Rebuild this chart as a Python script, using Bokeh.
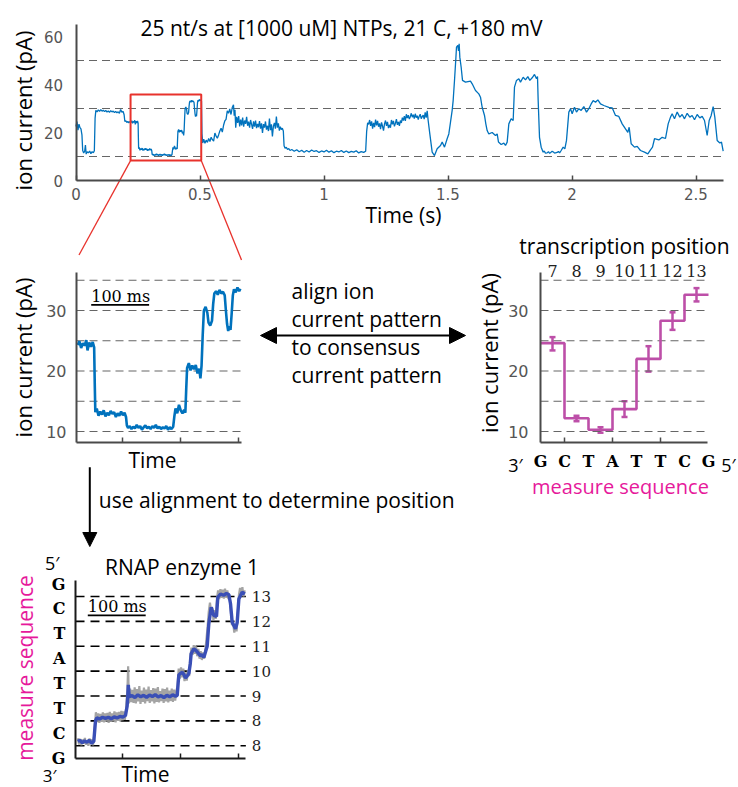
import numpy as np
from math import pi
from bokeh.plotting import figure
from bokeh.models import (Range1d, LinearAxis, FixedTicker, Label, Arrow, NormalHead,
                          ColumnDataSource, Whisker, TeeHead, Grid)
from bokeh.embed import file_html
from bokeh.resources import INLINE

W, H = 738, 787

# ----------------------------------------------------------------- data
title_text = "25 nt/s at [1000 uM] NTPs, 21 C, +180 mV"

# raw ion-current trace: (time s, current pA)
trace = [
    (0.000, 22.5), (0.004, 24.6), (0.008, 21.0), (0.012, 23.5), (0.016, 22.0), (0.020, 21.5),
    (0.024, 19.0), (0.027, 12.5), (0.031, 11.5), (0.035, 12.2), (0.038, 14.8), (0.041, 11.0),
    (0.045, 12.0), (0.050, 11.5), (0.055, 12.3), (0.060, 11.2), (0.065, 12.0), (0.070, 11.6),
    (0.074, 12.4), (0.077, 26.0), (0.080, 29.2), (0.085, 28.6), (0.090, 29.4), (0.095, 28.8),
    (0.100, 29.5), (0.105, 28.9), (0.110, 29.3), (0.115, 28.7), (0.120, 29.2), (0.125, 28.5),
    (0.130, 29.0), (0.135, 28.4), (0.140, 29.1), (0.145, 28.6), (0.150, 28.9), (0.155, 28.3),
    (0.160, 28.8), (0.165, 28.2), (0.170, 28.6), (0.175, 28.0), (0.180, 29.6), (0.185, 28.4),
    (0.190, 28.8), (0.194, 27.4), (0.197, 24.6), (0.201, 24.9), (0.205, 24.2), (0.209, 24.6),
    (0.213, 24.0), (0.217, 24.5),
    (0.222, 24.3), (0.225, 24.9), (0.228, 23.8), (0.231, 24.6), (0.234, 24.2), (0.237, 25.1),
    (0.239, 23.4), (0.242, 24.7), (0.245, 24.0), (0.248, 24.8), (0.2505, 23.9), (0.2515, 18.0),
    (0.2525, 13.2), (0.255, 13.8), (0.258, 12.6), (0.261, 13.3), (0.264, 12.8), (0.267, 13.5),
    (0.270, 12.5), (0.273, 13.1), (0.276, 12.7), (0.279, 13.4), (0.282, 12.9), (0.285, 13.2),
    (0.288, 12.4), (0.291, 13.0), (0.294, 12.6), (0.297, 13.3), (0.300, 12.7), (0.303, 13.1),
    (0.3055, 12.4), (0.307, 11.0), (0.309, 10.6), (0.312, 10.9), (0.315, 10.4), (0.318, 10.8),
    (0.321, 10.5), (0.324, 11.1), (0.327, 10.6), (0.330, 10.9), (0.333, 10.3), (0.336, 10.7),
    (0.339, 11.0), (0.342, 10.5), (0.345, 10.8), (0.348, 10.4), (0.351, 10.9), (0.354, 10.6),
    (0.357, 11.1), (0.360, 10.5), (0.363, 10.8), (0.366, 10.4), (0.369, 10.7), (0.372, 10.5),
    (0.375, 10.9), (0.378, 10.3), (0.381, 10.7), (0.384, 10.4), (0.387, 10.8), (0.389, 12.5),
    (0.391, 13.8), (0.394, 13.0), (0.397, 14.4), (0.400, 13.5), (0.403, 13.0), (0.406, 13.6),
    (0.408, 13.1), (0.4095, 17.0), (0.411, 20.5), (0.414, 21.3), (0.417, 20.1), (0.420, 20.9),
    (0.423, 20.3), (0.426, 21.0), (0.429, 19.6), (0.432, 20.4), (0.434, 18.8), (0.436, 20.9),
    (0.438, 26.0), (0.440, 30.0), (0.443, 30.6), (0.446, 29.6), (0.448, 28.0), (0.451, 27.5),
    (0.454, 28.3), (0.456, 31.0), (0.458, 32.8), (0.461, 33.2), (0.464, 32.6), (0.467, 33.4),
    (0.470, 32.8), (0.473, 33.1), (0.476, 32.5), (0.478, 30.0), (0.480, 27.8), (0.482, 26.6),
    (0.484, 27.4), (0.486, 26.8), (0.488, 29.5), (0.490, 32.5), (0.492, 33.5), (0.495, 33.0),
    (0.498, 33.8), (0.501, 33.2), (0.503, 33.6),
    (0.506, 33.0), (0.508, 19.5), (0.511, 15.6), (0.515, 17.2), (0.520, 15.5), (0.525, 16.8),
    (0.530, 15.9), (0.535, 17.5), (0.540, 16.2), (0.545, 18.0), (0.550, 17.0), (0.555, 16.4),
    (0.560, 19.8), (0.565, 18.5), (0.570, 17.6), (0.575, 19.0), (0.580, 20.6), (0.585, 21.8),
    (0.590, 20.2), (0.595, 23.0), (0.600, 24.8), (0.605, 25.5), (0.610, 29.0), (0.615, 28.0),
    (0.620, 29.8), (0.625, 27.5), (0.630, 30.4), (0.635, 31.5), (0.638, 27.0), (0.641, 29.5),
    (0.644, 22.0), (0.648, 26.5), (0.652, 24.0), (0.656, 26.8), (0.660, 22.5), (0.664, 25.4),
    (0.668, 23.0), (0.672, 26.2), (0.676, 22.4), (0.680, 25.0), (0.684, 23.6), (0.688, 26.5),
    (0.692, 22.8), (0.696, 24.5), (0.700, 22.0), (0.704, 25.2), (0.708, 23.4), (0.712, 21.5),
    (0.716, 24.6), (0.720, 22.4), (0.724, 25.0), (0.728, 21.8), (0.732, 23.6), (0.736, 22.2),
    (0.740, 24.8), (0.744, 21.6), (0.748, 23.8), (0.752, 19.8), (0.756, 23.5), (0.760, 22.0),
    (0.764, 24.6), (0.768, 21.2), (0.772, 22.8), (0.776, 20.6), (0.780, 25.8), (0.784, 21.0),
    (0.788, 23.4), (0.792, 18.4), (0.796, 22.6), (0.800, 24.0), (0.804, 21.6), (0.808, 26.6),
    (0.812, 22.0), (0.816, 23.8), (0.820, 20.8), (0.824, 22.4), (0.828, 21.2), (0.832, 21.8),
    (0.836, 20.6), (0.839, 14.5), (0.843, 13.4), (0.848, 13.8), (0.853, 12.9), (0.858, 13.3),
    (0.863, 12.5), (0.870, 12.9), (0.880, 12.2), (0.890, 12.8), (0.900, 12.0), (0.910, 12.6),
    (0.920, 11.8), (0.930, 12.5), (0.940, 11.9), (0.950, 12.7), (0.960, 12.1), (0.970, 12.4),
    (0.980, 11.7), (0.990, 12.3), (1.000, 11.9), (1.010, 12.6), (1.020, 11.8), (1.030, 12.4),
    (1.040, 11.6), (1.050, 12.2), (1.060, 11.9), (1.070, 12.5), (1.080, 11.7), (1.090, 12.3),
    (1.100, 11.6), (1.110, 12.1), (1.120, 11.8), (1.130, 12.4), (1.140, 11.5), (1.150, 12.0),
    (1.160, 11.7), (1.168, 12.2), (1.172, 20.5), (1.176, 24.0), (1.180, 23.4), (1.184, 25.2),
    (1.188, 22.8), (1.192, 24.6), (1.196, 21.6), (1.200, 24.0), (1.204, 22.2), (1.208, 25.4),
    (1.212, 23.0), (1.216, 24.8), (1.220, 22.4), (1.224, 23.8), (1.228, 21.4), (1.232, 24.2),
    (1.236, 22.6), (1.240, 20.8), (1.244, 23.6), (1.248, 25.0), (1.252, 22.8), (1.256, 24.4),
    (1.260, 21.8), (1.264, 23.2), (1.268, 22.0), (1.272, 25.2), (1.276, 23.4), (1.280, 24.8),
    (1.284, 22.6), (1.288, 23.8), (1.292, 25.6), (1.296, 23.2), (1.300, 24.4), (1.304, 22.8),
    (1.308, 25.0), (1.312, 24.0), (1.316, 26.2), (1.320, 25.0), (1.324, 26.8), (1.328, 24.8),
    (1.332, 27.6), (1.336, 26.0), (1.340, 27.2), (1.344, 25.6), (1.348, 26.6), (1.352, 28.0),
    (1.356, 26.4), (1.360, 27.4), (1.364, 25.8), (1.368, 27.8), (1.372, 26.2), (1.376, 27.0),
    (1.380, 25.4), (1.384, 26.8), (1.388, 27.6), (1.392, 25.8), (1.396, 26.6), (1.400, 27.2),
    (1.404, 25.6), (1.408, 28.4), (1.412, 26.2), (1.416, 29.0), (1.420, 25.0),
    (1.4267, 19.4), (1.4362, 11.8), (1.4456, 10.4), (1.4563, 13.2), (1.4698, 14.6), (1.4765, 16.0),
    (1.4859, 13.9), (1.4966, 17.4), (1.5033, 19.4), (1.5101, 24.3), (1.5168, 29.2), (1.5208, 33.3),
    (1.5262, 41.7), (1.5316, 50.7), (1.5343, 55.6), (1.5396, 56.3), (1.5423, 54.0), (1.5450, 57.0),
    (1.5477, 51.4), (1.5531, 47.2), (1.5585, 41.7), (1.5706, 41.0), (1.5907, 41.4), (1.5975, 40.3),
    (1.6109, 37.5), (1.6243, 36.1), (1.6310, 34.7), (1.6378, 30.5), (1.6472, 27.1), (1.6525, 23.6),
    (1.6579, 20.8), (1.6646, 19.4), (1.6781, 20.0), (1.6915, 18.75), (1.6983, 19.4), (1.7036, 16.0),
    (1.7144, 15.0), (1.7251, 15.6), (1.7319, 14.6), (1.7386, 16.0), (1.7453, 23.6), (1.7547, 25.7),
    (1.7628, 25.0), (1.7681, 38.9), (1.7762, 41.7), (1.7856, 42.4), (1.7923, 41.0), (1.8031, 43.0),
    (1.8125, 41.9), (1.8219, 43.3), (1.8300, 41.7), (1.8394, 42.8), (1.8488, 44.2), (1.8569, 42.4),
    (1.8609, 43.3), (1.8636, 33.3), (1.8690, 18.0), (1.8757, 13.9), (1.8838, 11.8), (1.888, 12.3),
    (1.893, 11.4), (1.8999, 11.5), (1.905, 12.0), (1.910, 11.3), (1.9200, 12.2), (1.925, 11.9),
    (1.930, 11.4), (1.9402, 11.7), (1.945, 12.1), (1.950, 11.5), (1.9563, 12.5), (1.9644, 13.9),
    (1.9711, 13.2), (1.9778, 16.7), (1.9872, 28.5), (1.9940, 29.9), (2.0007, 27.8), (2.0101, 30.5),
    (2.0181, 28.5), (2.0275, 29.9), (2.0370, 29.2), (2.0477, 30.8), (2.0585, 28.5), (2.0679, 29.9),
    (2.0773, 31.9), (2.0854, 33.3), (2.0948, 32.6), (2.1042, 33.6), (2.1149, 31.9), (2.1283, 31.25),
    (2.1485, 30.5), (2.1620, 30.3), (2.1754, 27.1), (2.1888, 26.7), (2.2023, 23.6), (2.2157, 21.5),
    (2.2251, 20.1), (2.2305, 22.2), (2.2386, 15.3), (2.2520, 13.9), (2.2628, 14.2), (2.2762, 12.5),
    (2.2923, 11.8), (2.3058, 11.1), (2.3165, 12.8), (2.3246, 13.9), (2.3327, 17.4), (2.3501, 16.9),
    (2.3636, 18.0), (2.3770, 17.5), (2.3878, 23.6), (2.3972, 26.4), (2.4039, 27.8), (2.4133, 25.7),
    (2.4241, 28.5), (2.4348, 26.4), (2.4442, 27.5), (2.4536, 25.7), (2.4644, 28.0), (2.4751, 26.4),
    (2.4845, 27.1), (2.4940, 25.3), (2.5047, 27.5), (2.5154, 26.1), (2.5249, 26.7), (2.5343, 25.0),
    (2.5450, 18.75), (2.5531, 25.0), (2.5612, 27.1), (2.5692, 30.8), (2.5759, 26.4), (2.5854, 16.7),
    (2.5961, 15.6), (2.6028, 16.0), (2.6096, 12.2),
]

top_t_end = 2.61
top_x_ticks = [0, 0.5, 1, 1.5, 2, 2.5]
top_y_ticks = [0, 20, 40, 60]
top_y_end = 65
top_ref_levels = [10, 30, 50]

# zoomed window (red box)
zoom_t = [0.22, 0.505]
zoom_pA = [8.3, 35.8]
zoom_y_axis = [8.18, 36.2]
zoom_y_ticks = [10, 20, 30]
zoom_x_ticks = [0.3, 0.4, 0.5]
zoom_ref_levels = [10, 15, 20, 25, 30, 35]
scalebar_s = 0.1

# consensus current pattern
cons_pos = [7, 8, 9, 10, 11, 12, 13]
cons_pA = [24.6, 12.2, 10.3, 13.7, 22.0, 28.3, 32.6]
cons_lo = [23.4, 11.7, 9.8, 12.4, 19.9, 26.8, 31.5]
cons_hi = [25.6, 12.6, 10.7, 15.0, 24.1, 29.7, 33.7]
cons_letters = ["G", "C", "T", "A", "T", "T", "C", "G"]
cons_letter_pos = [6.5, 7.5, 8.5, 9.5, 10.5, 11.5, 12.5, 13.5]
cons_ticks = [7.5, 9.5, 11.5]
cons_x_end = 13.45

# RNAP enzyme 1 position trace (time s, sequence position)
enz_fit = [
    (0.2223, 7.17), (0.226, 7.22), (0.230, 7.12), (0.234, 7.20), (0.238, 7.14), (0.242, 7.22),
    (0.246, 7.10), (0.2499, 7.18), (0.2528, 8.00), (0.255, 8.12), (0.260, 8.08), (0.265, 8.15),
    (0.270, 8.10), (0.275, 8.14), (0.280, 8.09), (0.285, 8.16), (0.290, 8.12), (0.295, 8.18),
    (0.300, 8.15), (0.3046, 8.22), (0.3075, 8.60), (0.3087, 9.05), (0.3095, 9.45), (0.311, 8.98),
    (0.316, 9.02), (0.321, 8.94), (0.326, 9.05), (0.331, 8.97), (0.336, 9.03), (0.341, 8.95),
    (0.346, 9.04), (0.351, 8.98), (0.356, 9.06), (0.361, 8.96), (0.366, 9.02), (0.371, 8.94),
    (0.376, 9.03), (0.381, 8.97), (0.386, 9.05), (0.391, 8.99), (0.3939, 9.02), (0.3967, 9.85),
    (0.400, 9.92), (0.4025, 9.95), (0.405, 9.88), (0.4083, 9.73), (0.411, 9.80), (0.4140, 9.90),
    (0.4165, 10.30), (0.4180, 10.70), (0.4226, 10.90), (0.4255, 10.85), (0.4284, 10.78),
    (0.431, 10.70), (0.4342, 10.62), (0.437, 10.66), (0.4399, 10.55), (0.4457, 11.00),
    (0.4485, 11.90), (0.4526, 12.57), (0.4572, 12.24), (0.4618, 12.20), (0.4641, 12.97),
    (0.4687, 13.10), (0.4740, 13.05), (0.4790, 13.12), (0.4831, 13.08), (0.4860, 12.71),
    (0.4889, 11.97), (0.4946, 11.70), (0.4975, 11.95), (0.5004, 12.90), (0.5061, 13.17),
    (0.5107, 13.10),
]
enz_raw = [
    (0.2223, 7.30), (0.2245, 7.05), (0.2265, 7.28), (0.2285, 7.02), (0.2305, 7.25), (0.2325, 7.08),
    (0.2345, 7.32), (0.2365, 7.04), (0.2385, 7.22), (0.2405, 7.00), (0.2425, 7.30), (0.2445, 7.06),
    (0.2465, 7.26), (0.2485, 7.02), (0.2505, 7.40), (0.2520, 7.90), (0.2535, 8.35), (0.2555, 7.95),
    (0.2575, 8.30), (0.2595, 7.92), (0.2615, 8.28), (0.2635, 7.96), (0.2655, 8.34), (0.2675, 7.94),
    (0.2695, 8.30), (0.2715, 7.98), (0.2735, 8.32), (0.2755, 7.92), (0.2775, 8.36), (0.2795, 7.96),
    (0.2815, 8.30), (0.2835, 7.98), (0.2855, 8.38), (0.2875, 7.94), (0.2895, 8.34), (0.2915, 8.00),
    (0.2935, 8.36), (0.2955, 7.98), (0.2975, 8.40), (0.2995, 8.02), (0.3015, 8.38), (0.3035, 8.04),
    (0.3055, 8.45), (0.3080, 9.30), (0.3092, 10.20), (0.3105, 8.70), (0.3125, 9.30), (0.3145, 8.75),
    (0.3165, 9.25), (0.3185, 8.72), (0.3205, 9.35), (0.3225, 8.70), (0.3245, 9.28), (0.3265, 8.78),
    (0.3285, 9.40), (0.3305, 8.68), (0.3325, 9.22), (0.3345, 8.76), (0.3365, 9.34), (0.3385, 8.70),
    (0.3405, 9.26), (0.3425, 8.80), (0.3445, 9.38), (0.3465, 8.72), (0.3485, 9.24), (0.3505, 8.78),
    (0.3525, 9.32), (0.3545, 8.70), (0.3565, 9.30), (0.3585, 8.76), (0.3605, 9.36), (0.3625, 8.74),
    (0.3645, 9.20), (0.3665, 8.80), (0.3685, 9.30), (0.3705, 8.72), (0.3725, 9.28), (0.3745, 8.78),
    (0.3765, 9.34), (0.3785, 8.74), (0.3805, 9.22), (0.3825, 8.80), (0.3845, 9.30), (0.3865, 8.76),
    (0.3885, 9.26), (0.3905, 8.82), (0.3925, 9.20), (0.3945, 9.40), (0.3965, 10.10), (0.3985, 9.70),
    (0.4005, 10.15), (0.4025, 9.75), (0.4045, 10.10), (0.4065, 9.60), (0.4085, 9.95), (0.4105, 9.62),
    (0.4125, 10.05), (0.4145, 9.80), (0.4165, 10.50), (0.4185, 10.95), (0.4205, 10.65), (0.4225, 11.05),
    (0.4245, 10.70), (0.4265, 11.00), (0.4285, 10.60), (0.4305, 10.90), (0.4325, 10.50), (0.4345, 10.80),
    (0.4365, 10.45), (0.4385, 10.75), (0.4405, 10.50), (0.4425, 10.85), (0.4445, 11.30), (0.4465, 11.80),
    (0.4485, 12.40), (0.4505, 12.75), (0.4525, 12.40), (0.4545, 12.55), (0.4565, 12.05), (0.4585, 12.45),
    (0.4605, 12.10), (0.4625, 12.90), (0.4645, 13.25), (0.4665, 12.90), (0.4685, 13.30), (0.4705, 12.95),
    (0.4725, 13.28), (0.4745, 12.92), (0.4765, 13.32), (0.4785, 12.96), (0.4805, 13.25), (0.4825, 12.90),
    (0.4845, 13.00), (0.4865, 12.40), (0.4885, 11.85), (0.4905, 11.95), (0.4925, 11.55), (0.4945, 11.85),
    (0.4965, 11.60), (0.4985, 12.30), (0.5005, 13.05), (0.5025, 13.35), (0.5045, 13.05), (0.5065, 13.38),
    (0.5085, 13.00), (0.5105, 13.25),
]
enz_levels = [7, 8, 9, 10, 11, 12, 13]
enz_level_labels = ["8", "8", "9", "10", "11", "12", "13"]
enz_letters = ["G", "C", "T", "T", "A", "T", "C", "G"]   # 3' (bottom) -> 5' (top)
enz_letter_pos = [6.5, 7.5, 8.5, 9.5, 10.5, 11.5, 12.5, 13.5]
enz_y_axis = [6.48, 13.65]
enz_t_axis = [0.2183, 0.5125]

# ----------------------------------------------------------------- styles
SANS = "Open Sans"
NUM = "DejaVu Sans"
SERIF = "DejaVu Serif"
BLUE = "#0072BD"
RED = "#e8322c"
PURPLE = "#bd4fa8"
MAGENTA = "#e6199b"
ENZ_BLUE = "#3a4fb6"

trace_t = np.array([a for a, _ in trace])
trace_pA = np.array([b for _, b in trace])


def x_map(d0, p0, s):
    start = d0 - p0 / s
    return Range1d(start, start + W / s)


def y_map(d0, p0, s):
    return Range1d(d0 - (H - p0) / s, d0 + p0 / s)


p = figure(width=W, height=H, x_range=Range1d(0, W), y_range=Range1d(H, 0),
           output_backend="svg", toolbar_location=None, tools="",
           x_axis_location=None, y_axis_location=None, min_border=0)
p.outline_line_color = None
p.center = [r for r in p.center if not isinstance(r, Grid)]
p.background_fill_color = "white"
p.border_fill_color = "white"

# panel placement (page pixels)
TOP_X = (0, 75.5, 248.0)
TOP_Y = (0, 180.0, 2.4)
ZOOM_X = (0.22, 76.0, 579.0)
ZOOM_Y = (10, 431.0, 6.05)
CONS_X = (6.5, 540.0, 24.0)
ENZ_Y = (7, 745.3, 24.88)

p.extra_x_ranges = {"top": x_map(*TOP_X), "zoom": x_map(*ZOOM_X), "cons": x_map(*CONS_X)}
p.extra_y_ranges = {"top": y_map(*TOP_Y), "zoom": y_map(*ZOOM_Y), "enz": y_map(*ENZ_Y)}


def px(m, d):
    return m[1] + (d - m[0]) * m[2]


def py(m, d):
    return m[1] - (d - m[0]) * m[2]


def axis(side, xn, yn, loc, bounds, ticks, labels=None, tick_in=0, line_color="#4a4a4a",
         line_width=2, font=NUM, size="16px", color="#555555", style="normal", standoff=8):
    ax = LinearAxis(x_range_name=xn, y_range_name=yn, fixed_location=loc, bounds=tuple(bounds),
                    ticker=FixedTicker(ticks=ticks, minor_ticks=[]))
    ax.axis_line_color = line_color
    ax.axis_line_width = line_width
    ax.major_tick_in = tick_in
    ax.major_tick_out = 0
    ax.major_tick_line_color = line_color if tick_in else None
    ax.major_tick_line_width = 1.5
    ax.minor_tick_line_color = None
    ax.major_label_text_font = font
    ax.major_label_text_font_size = size
    ax.major_label_text_color = color
    ax.major_label_text_font_style = style
    ax.major_label_standoff = standoff
    if labels is not None:
        ax.major_label_overrides = {t: l for t, l in zip(ticks, labels)}
    p.add_layout(ax, side)
    return ax


def text(x, y, s, size="21px", font=SANS, color="black", align="center",
         baseline="middle", angle=0.0, style="normal"):
    p.add_layout(Label(x=x, y=y, text=s, text_font=font, text_font_size=size,
                       text_color=color, text_align=align, text_baseline=baseline,
                       angle=angle, text_font_style=style))


# ------------------------------------------------------------ top panel
p.segment(x0=0, x1=top_t_end, y0=top_ref_levels, y1=top_ref_levels, x_range_name="top",
          y_range_name="top", line_color="#666666", line_width=1.2, line_dash="8 5")
p.line(trace_t, trace_pA, x_range_name="top", y_range_name="top", line_color=BLUE, line_width=1.3)
p.quad(left=[zoom_t[0]], right=[zoom_t[1]], bottom=[zoom_pA[0]], top=[zoom_pA[1]],
       x_range_name="top", y_range_name="top", fill_color=None, line_color=RED, line_width=2)
axis("below", "top", "top", 0, (0, top_t_end), top_x_ticks, tick_in=5, size="15px", standoff=7)
axis("left", "top", "top", 0, (0, top_y_end), top_y_ticks, size="15px", standoff=13)
text(341, 27, title_text)
text(22.5, 110, "ion current (pA)", size="22px", angle=pi / 2)
text(403, 214, "Time (s)")

# connectors from the red box to the zoomed panel
p.segment(x0=[px(TOP_X, zoom_t[0]), px(TOP_X, zoom_t[1])],
          y0=[py(TOP_Y, zoom_pA[0]), py(TOP_Y, zoom_pA[0])],
          x1=[px(ZOOM_X, zoom_t[0]) + 2.5, px(ZOOM_X, zoom_t[1])],
          y1=[py(ZOOM_Y, zoom_y_axis[1]) - 18, py(ZOOM_Y, zoom_y_axis[1]) - 13],
          line_color=RED, line_width=1.3)

# ------------------------------------------------------ zoomed panel
mask = (trace_t >= zoom_t[0]) & (trace_t <= zoom_t[1])
p.segment(x0=zoom_t[0], x1=zoom_t[1], y0=zoom_ref_levels, y1=zoom_ref_levels, x_range_name="zoom",
          y_range_name="zoom", line_color="#666666", line_width=1.2, line_dash="8 5")
p.line(trace_t[mask], trace_pA[mask], x_range_name="zoom", y_range_name="zoom",
       line_color=BLUE, line_width=2.6)
axis("below", "zoom", "zoom", zoom_y_axis[0], zoom_t, zoom_x_ticks, labels=[""] * 3, tick_in=5)
axis("left", "zoom", "zoom", zoom_t[0], zoom_y_axis, zoom_y_ticks, standoff=10)
sb_t0 = zoom_t[0] + 0.0254
sb_y = 30.94
p.segment(x0=[sb_t0], x1=[sb_t0 + scalebar_s], y0=[sb_y], y1=[sb_y], x_range_name="zoom",
          y_range_name="zoom", line_color="black", line_width=1.8)
text(px(ZOOM_X, sb_t0), 295.5, "100 ms", size="16px", font=SERIF, align="left")
text(22.5, 357, "ion current (pA)", size="22px", angle=pi / 2)
text(152, 459, "Time")

# ------------------------------------------------- consensus panel
p.segment(x0=cons_letter_pos[0], x1=cons_letter_pos[-1], y0=zoom_ref_levels, y1=zoom_ref_levels,
          x_range_name="cons", y_range_name="zoom", line_color="#666666", line_width=1.2,
          line_dash="8 5")
step_x = [c - 0.5 for c in cons_pos] + [cons_pos[-1] + 0.5]
step_y = cons_pA + [cons_pA[-1]]
p.step(step_x, step_y, mode="after", x_range_name="cons", y_range_name="zoom",
       line_color=PURPLE, line_width=2.6)
src = ColumnDataSource(dict(x=cons_pos, lo=cons_lo, hi=cons_hi))
p.add_layout(Whisker(source=src, base="x", lower="lo", upper="hi", x_range_name="cons",
                     y_range_name="zoom", line_color=PURPLE, line_width=2.5,
                     lower_head=TeeHead(size=6, line_color=PURPLE, line_width=2.5),
                     upper_head=TeeHead(size=6, line_color=PURPLE, line_width=2.5)))
axis("below", "cons", "zoom", zoom_y_axis[0], (cons_letter_pos[0], cons_x_end), cons_ticks,
     labels=[""] * 3, tick_in=5)
axis("below", "cons", "zoom", zoom_y_axis[0], (cons_letter_pos[0], cons_x_end), cons_letter_pos,
     labels=cons_letters, line_color=None, font=SERIF, style="bold", color="black", standoff=9)
axis("left", "cons", "zoom", cons_letter_pos[0], zoom_y_axis, zoom_y_ticks, standoff=12)
axis("above", "cons", "zoom", 35.4, (cons_letter_pos[0], cons_x_end), cons_pos,
     line_color=None, font=SERIF, color="#222222", standoff=1)
text(624, 245, "transcription position")
text(488, 352.5, "ion current (pA)", size="22px", angle=pi / 2)
text(515, 464, "3\u2032", size="18px")
text(728, 464, "5\u2032", size="18px")
text(620, 486, "measure sequence", size="20px", color=MAGENTA)

# --------------------------------------------------------- arrows
p.add_layout(Arrow(x_start=260, y_start=335, x_end=465, y_end=335, line_width=2, line_color="black",
                   start=NormalHead(size=16, fill_color="black", line_color="black"),
                   end=NormalHead(size=16, fill_color="black", line_color="black")))
for i, s in enumerate(["align ion", "current pattern", "to consensus", "current pattern"]):
    text(291, 290 + 28.2 * i, s, align="left")
p.add_layout(Arrow(x_start=89.3, y_start=466.7, x_end=89.3, y_end=546, line_width=2,
                   line_color="black", end=NormalHead(size=14, fill_color="black", line_color="black"),
                   start=None))
text(98.3, 499, "use alignment to determine position", align="left")

# ------------------------------------------------------- enzyme panel
p.segment(x0=enz_t_axis[0], x1=enz_t_axis[1], y0=enz_levels, y1=enz_levels, x_range_name="zoom",
          y_range_name="enz", line_color="black", line_width=1.6, line_dash="9 6")
p.line([a for a, _ in enz_raw], [b for _, b in enz_raw], x_range_name="zoom", y_range_name="enz",
       line_color="#9a9a9a", line_width=2.2, line_alpha=0.9)
p.line([a for a, _ in enz_fit], [b for _, b in enz_fit], x_range_name="zoom", y_range_name="enz",
       line_color=ENZ_BLUE, line_width=3.4)
axis("below", "zoom", "enz", enz_y_axis[0], enz_t_axis, zoom_x_ticks, labels=[""] * 3, tick_in=5,
     line_color="#1a1a1a")
axis("left", "zoom", "enz", enz_t_axis[0], enz_y_axis, enz_letter_pos, labels=enz_letters,
     line_color="#1a1a1a", font=SERIF, style="bold", color="black", standoff=10)
axis("right", "zoom", "enz", enz_t_axis[1], enz_y_axis, enz_levels, labels=enz_level_labels,
     line_color=None, font=SERIF, size="15px", color="#222222", standoff=6)
sb2_t0 = zoom_t[0] + 0.0195
p.segment(x0=[sb2_t0], x1=[sb2_t0 + scalebar_s], y0=[12.24], y1=[12.24], x_range_name="zoom",
          y_range_name="enz", line_color="black", line_width=1.8)
text(px(ZOOM_X, sb2_t0), 605.5, "100 ms", size="16px", font=SERIF, align="left")
text(181.5, 566.5, "RNAP enzyme 1")
text(51.7, 562.5, "5\u2032", size="18px")
text(49, 775, "3\u2032", size="17px")
text(145, 773, "Time")

text(24, 667.5, "measure sequence", size="21px", color=MAGENTA, angle=pi / 2)

open("out.html", "w").write(file_html(p, INLINE))
